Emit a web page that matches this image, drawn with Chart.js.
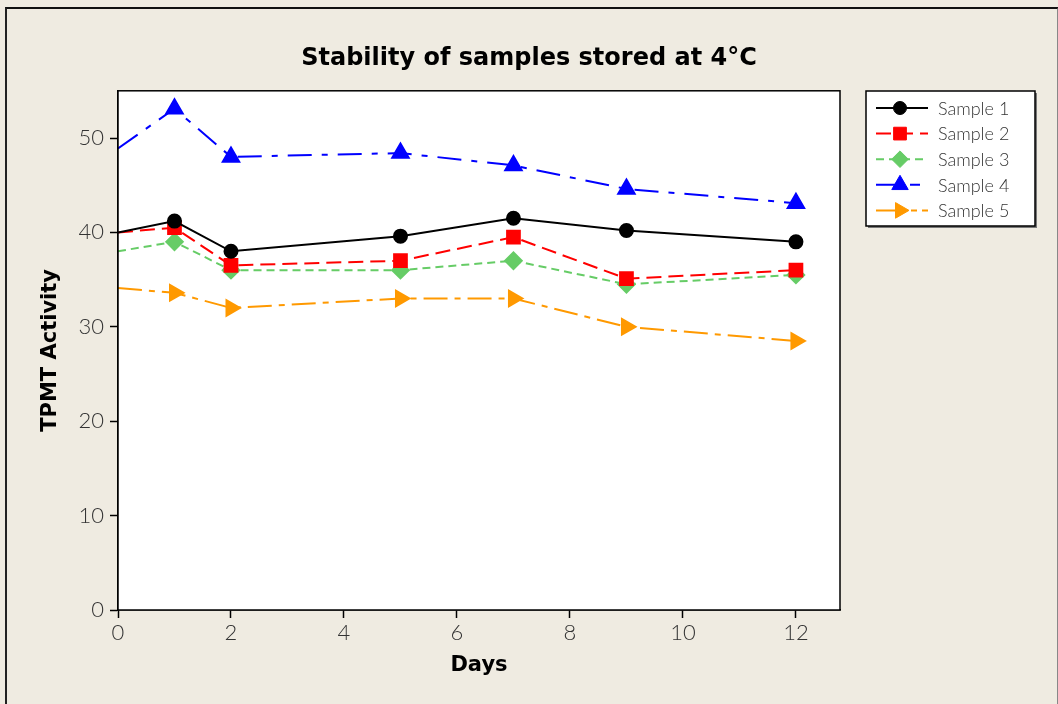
<!DOCTYPE html>
<html>
<head>
<meta charset="utf-8">
<script src="https://cdn.jsdelivr.net/npm/chart.js@4.4.0/dist/chart.umd.min.js"></script>
<style>
  html, body { margin: 0; padding: 0; background: #efebe1; overflow: hidden; }
  #frame {
    position: absolute; left: 5px; top: 7px; width: 1050px; height: 720px;
    border-top: 2px solid #111; border-left: 2px solid #222; border-right: 2px solid #888;
  }
  #wrap { position: absolute; left: 0; top: 0; width: 1058px; height: 704px; }
</style>
</head>
<body>
<div id="frame"></div>
<div id="wrap"><canvas id="stabilityChart" width="1058" height="704"></canvas></div>
<script>
// Dados
const days = [0, 1, 2, 5, 7, 9, 12];
const sample1 = [40.0, 41.2, 38.0, 39.6, 41.5, 40.2, 39.0];
const sample2 = [40.0, 40.5, 36.5, 37.0, 39.5, 35.1, 36.0];
const sample3 = [38.0, 39.0, 36.0, 36.0, 37.0, 34.5, 35.5];
const sample4 = [48.9, 53.1, 48.0, 48.4, 47.1, 44.6, 43.1];
const sample5 = [34.1, 33.6, 32.0, 33.0, 33.0, 30.0, 28.5];
const seriesLabels = ['Sample 1', 'Sample 2', 'Sample 3', 'Sample 4', 'Sample 5'];

function toPoints(values) {
    return days.map((d, i) => ({ x: d, y: values[i] }));
}
// sem marcador no dia 0
function radii(r) {
    return days.map(d => d === 0 ? 0 : r);
}

const tickFont = { family: 'Lato', size: 22, weight: '300' };

// fundo branco e moldura da área do gráfico
const plotBox = {
    id: 'plotBox',
    beforeDatasetsDraw(chart) {
        const a = chart.chartArea;
        const ctx = chart.ctx;
        ctx.save();
        ctx.fillStyle = '#ffffff';
        ctx.fillRect(a.left, a.top, a.right - a.left, a.bottom - a.top);
        ctx.restore();
    },
    afterDatasetsDraw(chart) {
        const a = chart.chartArea;
        const ctx = chart.ctx;
        ctx.save();
        ctx.strokeStyle = '#000';
        ctx.lineWidth = 1.5;
        ctx.strokeRect(a.left, a.top, a.right - a.left, a.bottom - a.top);
        ctx.restore();
    }
};

// legenda em caixa à direita
const boxLegend = {
    id: 'boxLegend',
    afterDraw(chart) {
        const ctx = chart.ctx;
        const x0 = 866, y0 = 91, w = 169, h = 135;
        ctx.save();
        ctx.fillStyle = '#777';
        ctx.fillRect(x0 + 2, y0 + 2, w, h);
        ctx.fillStyle = '#fff';
        ctx.fillRect(x0, y0, w, h);
        ctx.strokeStyle = '#000';
        ctx.lineWidth = 1.5;
        ctx.strokeRect(x0, y0, w, h);
        chart.data.datasets.forEach((ds, i) => {
            const y = 108 + i * 25.6;
            ctx.strokeStyle = ds.borderColor;
            ctx.lineWidth = ds.borderWidth;
            ctx.setLineDash(ds.legendDash || ds.borderDash || []);
            ctx.beginPath();
            ctx.moveTo(876, y);
            ctx.lineTo(928, y);
            ctx.stroke();
            ctx.setLineDash([]);
            ctx.fillStyle = ds.pointBackgroundColor;
            ctx.strokeStyle = ds.pointBackgroundColor;
            ctx.lineWidth = 1;
            Chart.helpers.drawPoint(ctx, {
                pointStyle: ds.pointStyle,
                rotation: ds.pointRotation || 0,
                radius: ds.legendRadius,
                borderWidth: 1
            }, 900, y);
            ctx.fillStyle = '#333';
            ctx.font = '300 18px Lato';
            ctx.textBaseline = 'middle';
            ctx.fillText(ds.label, 938, y + 1);
        });
        ctx.restore();
    }
};

const ctx = document.getElementById('stabilityChart').getContext('2d');
new Chart(ctx, {
    type: 'line',
    data: {
        datasets: [
            {
                label: seriesLabels[0], data: toPoints(sample1),
                borderColor: '#000000', pointBackgroundColor: '#000000', pointBorderColor: '#000000',
                borderWidth: 2, pointStyle: 'circle', pointRadius: radii(6.5), legendRadius: 6.5
            },
            {
                label: seriesLabels[1], data: toPoints(sample2),
                borderColor: '#ff0000', pointBackgroundColor: '#ff0000', pointBorderColor: '#ff0000',
                borderWidth: 2, borderDash: [15, 7], pointStyle: 'rect', pointRadius: radii(9), legendRadius: 9
            },
            {
                label: seriesLabels[2], data: toPoints(sample3),
                borderColor: '#66cc66', pointBackgroundColor: '#66cc66', pointBorderColor: '#66cc66',
                borderWidth: 2, borderDash: [8, 5], pointStyle: 'rectRot', pointRadius: radii(8.3), legendRadius: 8.3
            },
            {
                label: seriesLabels[3], data: toPoints(sample4),
                borderColor: '#0000ff', pointBackgroundColor: '#0000ff', pointBorderColor: '#0000ff',
                borderWidth: 2, borderDash: [24, 10, 6, 10], legendDash: [22, 12, 10, 12],
                pointStyle: 'triangle', pointRadius: radii(9.5), legendRadius: 9.5
            },
            {
                label: seriesLabels[4], data: toPoints(sample5),
                borderColor: '#ff9900', pointBackgroundColor: '#ff9900', pointBorderColor: '#ff9900',
                borderWidth: 2, borderDash: [24, 7, 6, 7], legendDash: [30, 5, 6, 5],
                pointStyle: 'triangle', pointRotation: 90, pointRadius: radii(9), legendRadius: 9
            }
        ]
    },
    options: {
        responsive: false,
        animation: false,
        layout: { padding: 0 },
        plugins: {
            legend: { display: false },
            tooltip: { enabled: false },
            title: {
                display: true,
                text: 'Stability of samples stored at 4°C',
                color: '#000',
                font: { family: 'DejaVu Sans', size: 24, weight: 'bold' },
                padding: { top: 44, bottom: 18 }
            }
        },
        scales: {
            x: {
                type: 'linear',
                min: 0,
                max: 12.78,
                afterFit(scale) { scale.height = 94; },
                ticks: { stepSize: 2, includeBounds: false, color: '#333', font: tickFont, padding: 2 },
                grid: { drawOnChartArea: false, drawTicks: true, tickLength: 8, color: '#000', tickWidth: 1.5 },
                border: { display: true, color: '#000', width: 1.5 },
                title: {
                    display: true, text: 'Days', color: '#000',
                    font: { family: 'DejaVu Sans', size: 21, weight: 'bold' },
                    padding: { top: 0, bottom: 26 }
                }
            },
            y: {
                min: 0,
                max: 55,
                afterFit(scale) { scale.width = 118; },
                ticks: { stepSize: 10, includeBounds: false, color: '#333', font: tickFont, padding: 6 },
                grid: { drawOnChartArea: false, drawTicks: true, tickLength: 8, color: '#000', tickWidth: 1.5 },
                border: { display: true, color: '#000', width: 1.5 },
                title: {
                    display: true, text: 'TPMT Activity', color: '#000',
                    font: { family: 'DejaVu Sans', size: 21, weight: 'bold' },
                    padding: { top: 38, bottom: 0 }
                }
            },
            // espaço reservado para a legenda
            ySpace: {
                position: 'right',
                min: 0,
                max: 55,
                afterFit(scale) { scale.width = 218; },
                ticks: { display: false },
                grid: { display: false },
                border: { display: false }
            }
        }
    },
    plugins: [plotBox, boxLegend]
});
</script>
</body>
</html>
